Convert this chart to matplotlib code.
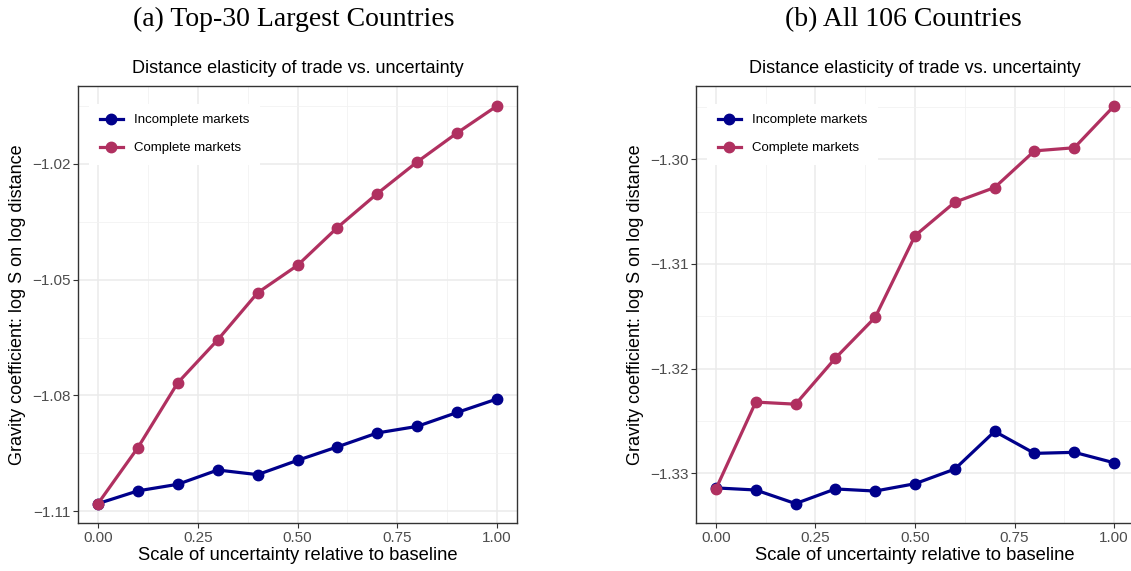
import matplotlib
matplotlib.use("Agg")
import matplotlib.pyplot as plt
from matplotlib.ticker import MultipleLocator, FixedLocator

# scale of uncertainty relative to baseline
scale = [0.0, 0.1, 0.2, 0.3, 0.4, 0.5, 0.6, 0.7, 0.8, 0.9, 1.0]

# (a) Top-30 largest countries
top30_incomplete = [-1.1080, -1.1047, -1.1030, -1.0993, -1.1005, -1.0968,
                    -1.0933, -1.0897, -1.0880, -1.0844, -1.0809]
top30_complete = [-1.1080, -1.0935, -1.0767, -1.0656, -1.0534, -1.0463,
                  -1.0365, -1.0277, -1.0195, -1.0120, -1.0050]

# (b) All 106 countries
all_incomplete = [-1.3314, -1.3316, -1.3329, -1.3315, -1.3317, -1.3310,
                  -1.3296, -1.3260, -1.3281, -1.3280, -1.3290]
all_complete = [-1.3315, -1.3232, -1.3234, -1.3190, -1.3151, -1.3073,
                -1.3041, -1.3027, -1.2992, -1.2989, -1.2949]

panel_titles = ["(a) Top-30 Largest Countries", "(b) All 106 Countries"]
subtitle = "Distance elasticity of trade vs. uncertainty"
x_ticks = [0.0, 0.25, 0.5, 0.75, 1.0]
y_ticks_a = [-1.11, -1.08, -1.05, -1.02]
y_ticks_b = [-1.33, -1.32, -1.31, -1.30]

col_incomplete = "#00008B"
col_complete = "#B03060"
sans = ["Liberation Sans", "DejaVu Sans"]
serif = ["Liberation Serif", "DejaVu Serif"]

fig = plt.figure(figsize=(11.31, 5.71), dpi=100)

def draw_panel(ax, inc, comp, yticks, ymajor):
    ax.plot(scale, inc, color=col_incomplete, lw=2.3, marker="o", ms=7.5,
            label="Incomplete markets", zorder=3)
    ax.plot(scale, comp, color=col_complete, lw=2.3, marker="o", ms=7.5,
            label="Complete markets", zorder=4)
    # ggplot-like 5% expansion
    allv = inc + comp
    lo, hi = min(allv), max(allv)
    pad = (hi - lo) * 0.05
    ax.set_ylim(lo - pad, hi + pad)
    ax.set_xlim(-0.05, 1.05)
    ax.xaxis.set_major_locator(FixedLocator(x_ticks))
    ax.xaxis.set_minor_locator(MultipleLocator(0.125))
    ax.set_xticklabels(["%.2f" % v for v in x_ticks])
    ax.yaxis.set_major_locator(FixedLocator(yticks))
    ax.yaxis.set_minor_locator(FixedLocator(
        [yticks[0] - ymajor / 2] + [t + ymajor / 2 for t in yticks]))
    ax.set_yticklabels(["\u2212%.2f" % abs(v) for v in yticks])
    ax.grid(which="major", color="#EBEBEB", lw=1.1)
    ax.grid(which="minor", color="#F2F2F2", lw=0.6)
    ax.set_axisbelow(True)
    for s in ax.spines.values():
        s.set_color("#333333")
        s.set_linewidth(1.0)
    ax.tick_params(which="major", length=3.5, width=0.8, color="#333333",
                   labelsize=11, labelcolor="#4D4D4D", pad=2)
    ax.tick_params(which="minor", length=0)
    for lab in ax.get_xticklabels() + ax.get_yticklabels():
        lab.set_family(sans)
    ax.set_xlabel("Scale of uncertainty relative to baseline", fontsize=13.2,
                  family=sans, labelpad=1)
    ax.set_ylabel("Gravity coefficient: log S on log distance", fontsize=13,
                  family=sans, labelpad=4)
    ax.set_title(subtitle, fontsize=13, family=sans, pad=9)
    leg = ax.legend(loc="upper left", bbox_to_anchor=(0.01, 0.975),
                    frameon=True, fancybox=False, framealpha=1,
                    facecolor="white", edgecolor="none",
                    prop={"family": sans, "size": 9.5},
                    handlelength=1.8, labelspacing=1.2, borderpad=0.8,
                    handletextpad=0.8)
    leg.set_zorder(5)

ax1 = fig.add_axes([0.069, 0.0832, 0.3881, 0.7662])
draw_panel(ax1, top30_incomplete, top30_complete, y_ticks_a, 0.03)

ax2 = fig.add_axes([0.6154, 0.0832, 0.3873, 0.7662])
draw_panel(ax2, all_incomplete, all_complete, y_ticks_b, 0.01)

fig.text(0.260, 0.966, panel_titles[0], ha="center", va="center",
         fontsize=20, family=serif)
fig.text(0.799, 0.966, panel_titles[1], ha="center", va="center",
         fontsize=20, family=serif)

fig.savefig("out.png", dpi=100)
